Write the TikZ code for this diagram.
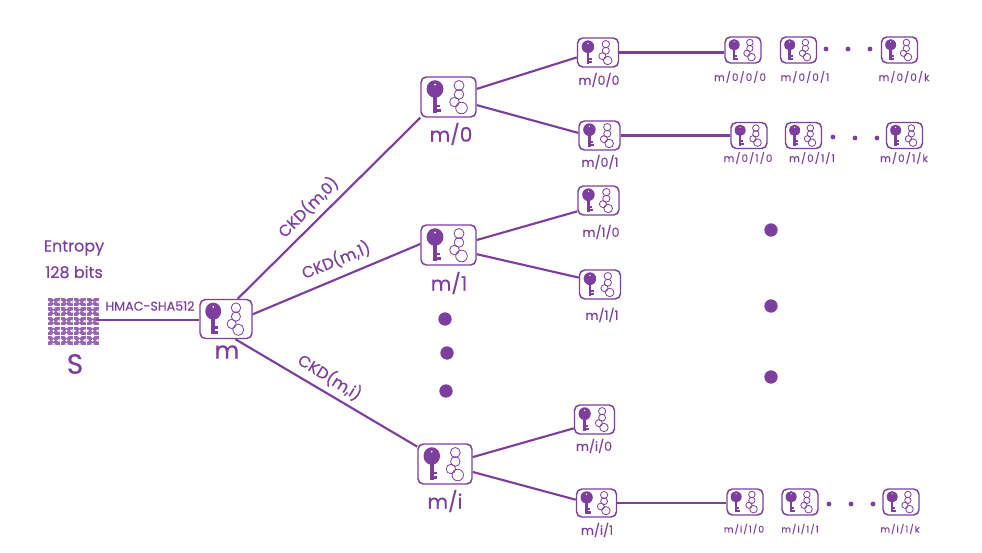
\documentclass[tikz,border=0pt]{standalone}
\usepackage{fontspec}
\setmainfont{Poppins}[FakeBold=0.35]
\definecolor{pur}{HTML}{7D3F9E}
\tikzset{
  x=0.75pt,y=-0.75pt,
  link/.style={draw=pur,line width=1.6pt},
  boxnode/.style={draw=pur,rounded corners=4pt,line width=1.1pt,inner sep=0pt,fill=white},
  blob/.style={circle,fill=pur,inner sep=0pt},
  txt/.style={text=pur,inner sep=0pt,font=\fontsize{#1}{#1}\selectfont},
  spaced/.style={text=pur,inner sep=0pt,font=\fontsize{#1}{#1}\selectfont\addfontfeature{LetterSpace=11}}
}
% name, cx, cy, w, h
\newcommand{\keybox}[5]{%
  \node[boxnode,minimum width=#4*0.75pt,minimum height=#5*0.75pt] (#1) at (#2,#3) {};
  \begin{scope}[shift={(#2,#3)},xscale=#4/55,yscale=#5/40]
    \fill[pur] (-13.5,-8) ellipse (8.4 and 8.8);
    \fill[pur] (-15.4,-2) rectangle (-11.6,15.5);
    \fill[pur] (-12,7.5) rectangle (-8.5,10);
    \fill[pur] (-12,12) rectangle (-8,15);
    \fill[white] (-13.5,-12.5) circle (1);
    \draw[pur,line width=0.6pt] (10.5,-11.5) circle (5);
    \draw[pur,line width=0.6pt] (10.5,-2.5) circle (4.8);
    \draw[pur,line width=0.6pt] (6,5) circle (4.8);
    \draw[pur,line width=0.6pt] (13,11) circle (5.8);
  \end{scope}}
\begin{document}
\begin{tikzpicture}
\useasboundingbox (0,0) rectangle (982,553);
% entropy pattern
\foreach \c in {0,...,3}{\foreach \r in {0,...,4}{
  \begin{scope}[shift={(53.5+13*\c,302+9.6*\r)}]
    \fill[pur!80] (-6,-4.2) rectangle (6,4.2);
    \fill[white] (-2,-4.2) -- (2,-4.2) -- (0,-2.4) -- cycle;
    \fill[white] (-2,4.2) -- (2,4.2) -- (0,2.4) -- cycle;
    \fill[white] (-6,-1.5) -- (-3.2,0) -- (-6,1.5) -- cycle;
    \fill[white] (6,-1.5) -- (3.2,0) -- (6,1.5) -- cycle;
    \fill[white] (0,0) circle (1.2);
  \end{scope}}}
\coordinate (seed) at (96,320);
\keybox{m}{226}{319}{52}{39}
\keybox{m0}{448.5}{97}{55}{40}
\keybox{m1}{448.5}{245}{55}{40}
\keybox{mi}{445}{464}{54}{40}
\keybox{m00}{598}{52.5}{41}{29}
\keybox{m01}{599.5}{135.5}{41}{29}
\keybox{m10}{598.5}{200.5}{41}{29}
\keybox{m11}{600}{284.5}{41}{29}
\keybox{mi0}{594.5}{419.5}{40}{29}
\keybox{mi1}{596.5}{503}{40}{28}
\keybox{a}{743}{50}{36}{26}
\keybox{b}{798.5}{50}{36}{26}
\keybox{c}{899.5}{50}{36}{26}
\keybox{d}{749}{135.5}{36}{26}
\keybox{e}{803.5}{135.5}{36}{26}
\keybox{f}{904.5}{135.5}{36}{26}
\keybox{g}{745}{502}{36}{26}
\keybox{h}{800}{502}{36}{26}
\keybox{j}{901}{502}{36}{26}
% connectors
\draw[link] (seed) -- (seed -| m.west);
\draw[link] (m.60) -- (m0.south west);
\draw[link] (m.10) -- (m1.178);
\draw[link] (m.-65) -- (mi.148);
\draw[link] (m0.16) -- (m00.193);
\draw[link] (m0.-16) -- (m01.173);
\draw[link] (m1.10) -- (m10.207);
\draw[link] (m1.-18) -- (m11.162);
\draw[link] (mi.14) -- (mi0.203);
\draw[link] (mi.-16) -- (mi1.171);
\draw[link] (m00.east) -- (m00.east -| a.west);
\draw[link] (m01.east) -- (m01.east -| d.west);
\draw[link] (mi1.east) -- (mi1.east -| g.west);
% big dots
\foreach \n/\x/\y in {p1/445/319,p2/447/353,p3/446/391,q1/771/230,q2/771/306,q3/771/377}
  \node[blob,minimum size=10pt] (\n) at (\x,\y) {};
% small dots
\foreach \n/\x/\y in {s1/826/49,s2/848/49,s3/870/49,s4/833/137,s5/855/138,s6/877/138,s7/829/504,s8/851/504,s9/873/504}
  \node[blob,minimum size=3.6pt] (\n) at (\x,\y) {};
% labels
\node[txt=12] (l1) at (74,248) {Entropy};
\node[txt=12] (l2) at (74,272) {128 bits};
\node[txt=21] (l3) at (75,364) {S};
\node[txt=9.5] (l4) at (150,306) {HMAC-SHA512};
\node[txt=18] (l5) at (227,352) {m};
\node[txt=12] (l6) at (308,207) [rotate=45] {CKD(m,0)};
\node[txt=12] (l7) at (336,260) [rotate=22] {CKD(m,1)};
\node[txt=12] (l8) at (330,377) [rotate=-32] {CKD(m,i)};
\node[txt=15] (l9) at (451,134) {m/0};
\node[txt=15] (l10) at (449,283) {m/1};
\node[txt=15] (l11) at (445,501) {m/i};
\node[txt=9.5] at (599,80) {m/0/0};
\node[txt=9.5] at (600,162) {m/0/1};
\node[txt=9.5] at (601,232) {m/1/0};
\node[txt=9.5] at (602,315) {m/1/1};
\node[txt=9.5] at (594,446) {m/i/0};
\node[txt=9.5] at (597,530) {m/i/1};
\node[spaced=7.8] at (740,77) {m/0/0/0};
\node[spaced=7.8] at (805,77) {m/0/0/1};
\node[spaced=7.8] at (904,77) {m/0/0/k};
\node[spaced=7.8] at (748,158) {m/0/1/0};
\node[spaced=7.8] at (812,158) {m/0/1/1};
\node[spaced=7.8] at (904,158) {m/0/1/k};
\node[spaced=7] at (744,529) {m/i/1/0};
\node[spaced=7] at (800,529) {m/i/1/1};
\node[spaced=7] at (900,529) {m/i/1/k};
\end{tikzpicture}
\end{document}
